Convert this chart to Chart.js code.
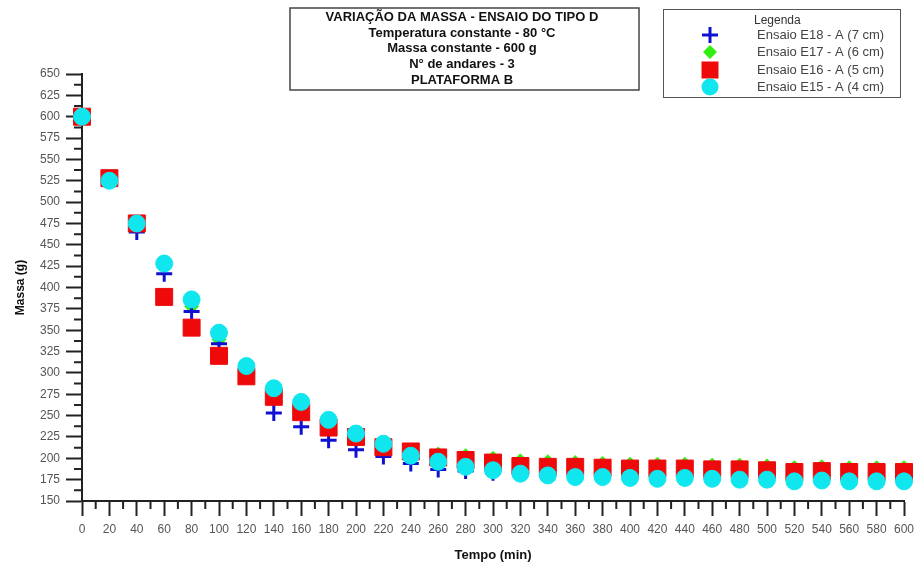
<!DOCTYPE html>
<html>
<head>
<meta charset="utf-8">
<script src="https://cdn.jsdelivr.net/npm/chart.js@4.4.0/dist/chart.umd.min.js"></script>
<style>
  body { margin: 0; background: #fff; }
  #wrap { width: 917px; height: 568px; }
</style>
</head>
<body>
<div id="wrap"><canvas id="chartMassa" width="917" height="568"></canvas></div>
<script>
const tempos = [0, 20, 40, 60, 80, 100, 120, 140, 160, 180, 200, 220, 240, 260, 280, 300,
  320, 340, 360, 380, 400, 420, 440, 460, 480, 500, 520, 540, 560, 580, 600];

const massaE18 = [600, 527, 465, 416, 372, 334, 300, 253, 237, 221, 210, 202, 194, 187, 185, 183,
  182, 181, 180, 179, 179, 178, 178, 178, 177, 177, 177, 176, 176, 176, 176];
const massaE17 = [600, 527, 476, 430, 378, 339, 304, 278, 262, 242, 228, 216, 209, 205, 203, 200,
  197, 196, 195, 194, 193, 193, 193, 192, 192, 191, 189, 190, 189, 189, 189];
const massaE16 = [600, 528, 475, 389, 353, 320, 296, 272, 254, 236, 225, 213, 208, 201, 198, 195,
  191, 190, 190, 189, 188, 188, 188, 187, 187, 186, 184, 185, 184, 184, 184];
const massaE15 = [600, 525, 475, 428, 386, 347, 308, 282, 266, 245, 229, 217, 203, 196, 190, 186,
  182, 180, 178, 178, 177, 176, 177, 176, 175, 175, 173, 174, 173, 173, 173];

const tituloLinhas = ['VARIAÇÃO DA MASSA - ENSAIO DO TIPO D', 'Temperatura constante - 80 °C',
  'Massa constante - 600 g', 'N° de andares - 3', 'PLATAFORMA B'];
const legendaNomes = ['Ensaio E18 - A (7 cm)', 'Ensaio E17 - A (6 cm)', 'Ensaio E16 - A (5 cm)', 'Ensaio E15 - A (4 cm)'];

function pontos(vals) {
  return tempos.map((t, i) => ({ x: t, y: vals[i] }));
}

const azul = '#1010d0';
const verde = '#33ee11';
const vermelho = '#ee0a0a';
const ciano = '#10e6ee';

const datasets = [
  { label: legendaNomes[0], data: pontos(massaE18), pointStyle: 'cross', pointRadius: 8,
    borderColor: azul, backgroundColor: azul, pointBorderWidth: 3, order: 2, clip: false },
  { label: legendaNomes[1], data: pontos(massaE17), pointStyle: 'rectRot', pointRadius: 7,
    borderColor: verde, backgroundColor: verde, pointBorderWidth: 1, order: 3, clip: false },
  { label: legendaNomes[2], data: pontos(massaE16), pointStyle: 'rect', pointRadius: 12,
    borderColor: vermelho, backgroundColor: vermelho, pointBorderWidth: 1, order: 1, clip: false },
  { label: legendaNomes[3], data: pontos(massaE15), pointStyle: 'circle', pointRadius: 8.5,
    borderColor: ciano, backgroundColor: ciano, pointBorderWidth: 1, order: 0, clip: false },
];

// marcas menores dos eixos + caixa do titulo + legenda
const extras = {
  id: 'extras',
  afterDraw(chart) {
    const ctx = chart.ctx;
    const xs = chart.scales.x, ys = chart.scales.y;
    ctx.save();
    ctx.strokeStyle = '#222';
    ctx.lineWidth = 2;
    ctx.beginPath();
    for (let v = 10; v < 600; v += 20) {
      const px = xs.getPixelForValue(v);
      ctx.moveTo(px, ys.bottom);
      ctx.lineTo(px, ys.bottom + 8);
    }
    for (let v = 162.5; v < 650; v += 25) {
      const py = ys.getPixelForValue(v);
      ctx.moveTo(xs.left, py);
      ctx.lineTo(xs.left - 8, py);
    }
    ctx.stroke();

    // titulo
    ctx.strokeStyle = '#444';
    ctx.lineWidth = 1.5;
    ctx.strokeRect(290, 8, 349, 82);
    ctx.fillStyle = '#111';
    ctx.font = 'bold 13px "Liberation Sans", Arial, sans-serif';
    ctx.textAlign = 'center';
    ctx.textBaseline = 'middle';
    const ys0 = [17, 33, 48, 64, 80];
    tituloLinhas.forEach((l, i) => ctx.fillText(l, 462, ys0[i]));

    // legenda
    ctx.strokeStyle = '#555';
    ctx.lineWidth = 1;
    ctx.strokeRect(663.5, 9.5, 237, 88);
    ctx.fillStyle = '#333';
    ctx.font = '12px "Liberation Sans", Arial, sans-serif';
    ctx.textAlign = 'left';
    ctx.fillText('Legenda', 754, 21);
    ctx.font = '13px "Liberation Sans", Arial, sans-serif';
    const ly = [35, 52, 70, 87];
    legendaNomes.forEach((n, i) => {
      ctx.fillStyle = '#444';
      ctx.fillText(n, 757, ly[i]);
    });
    const mx = 710;
    // cruz
    ctx.strokeStyle = azul; ctx.lineWidth = 3;
    ctx.beginPath();
    ctx.moveTo(mx - 8, ly[0]); ctx.lineTo(mx + 8, ly[0]);
    ctx.moveTo(mx, ly[0] - 8); ctx.lineTo(mx, ly[0] + 8);
    ctx.stroke();
    // losango
    ctx.fillStyle = verde;
    ctx.beginPath();
    ctx.moveTo(mx, ly[1] - 7); ctx.lineTo(mx + 7, ly[1]);
    ctx.lineTo(mx, ly[1] + 7); ctx.lineTo(mx - 7, ly[1]);
    ctx.closePath(); ctx.fill();
    // quadrado
    ctx.fillStyle = vermelho;
    ctx.fillRect(mx - 8.5, ly[2] - 8.5, 17, 17);
    // circulo
    ctx.fillStyle = ciano;
    ctx.beginPath();
    ctx.arc(mx, ly[3], 8.5, 0, Math.PI * 2);
    ctx.fill();
    ctx.restore();
  }
};

const fonteTick = { family: '"Liberation Sans", Arial, sans-serif', size: 12 };

const config = {
  type: 'scatter',
  data: { datasets: datasets },
  options: {
    responsive: false,
    animation: false,
    events: [],
    layout: { padding: { top: 74, right: 0, left: 0, bottom: 0 } },
    plugins: { legend: { display: false }, tooltip: { enabled: false } },
    scales: {
      x: {
        type: 'linear', min: 0, max: 600,
        afterFit(s) { s.height = 67; s.paddingRight = 11; s.paddingLeft = 0; },
        grid: { display: true, drawOnChartArea: false, drawTicks: true, tickLength: 15, tickWidth: 2, tickColor: '#222' },
        border: { display: true, color: '#222', width: 2 },
        ticks: { stepSize: 20, autoSkip: false, maxRotation: 0, padding: 6, color: '#555', font: fonteTick },
        title: { display: true, text: 'Tempo (min)', color: '#111', padding: { top: 0, bottom: 5 },
          font: { family: '"Liberation Sans", Arial, sans-serif', size: 13, weight: 'bold' } }
      },
      y: {
        type: 'linear', min: 150, max: 650,
        afterFit(s) { s.width = 82; },
        grid: { display: true, drawOnChartArea: false, drawTicks: true, tickLength: 16, tickWidth: 2, tickColor: '#222' },
        border: { display: true, color: '#222', width: 2 },
        ticks: { stepSize: 25, autoSkip: false, padding: 6, color: '#555', font: fonteTick },
        title: { display: true, text: 'Massa (g)', color: '#111', padding: { top: 13, bottom: 0 },
          font: { family: '"Liberation Sans", Arial, sans-serif', size: 12, weight: 'bold' } }
      }
    }
  },
  plugins: [extras]
};

const chartMassa = new Chart(document.getElementById('chartMassa'), config);
</script>
</body>
</html>
